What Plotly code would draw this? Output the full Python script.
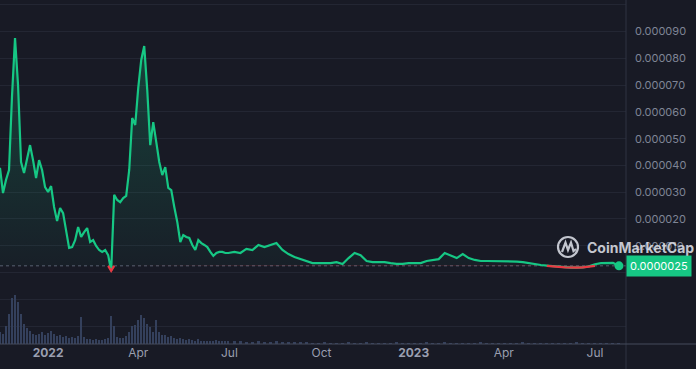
import numpy as np
import pandas as pd
import plotly.graph_objects as go

# ---------------- data ----------------
# price in millionths of a dollar (1e-6 USD)
dates_a = pd.date_range("2021-11-14", periods=77, freq="3D")
dates_b = pd.date_range("2022-07-06", periods=65, freq="6D")

price_a = [39.1, 29.7, 34.6, 38.3, 66.0, 87.6, 70.1, 41.3, 37.2, 42.0,
           47.6, 42.0, 35.3, 42.0, 38.3, 31.9, 30.1, 32.3, 24.5, 19.2,
           24.1, 22.2, 15.1, 9.2, 9.5, 12.1, 17.0, 13.3, 15.1, 16.6,
           11.4, 12.1, 9.9, 8.4, 7.7, 8.4, 6.5, 0.6, 29.0, 27.1,
           26.3, 27.8, 28.6, 38.3, 57.7, 55.1, 68.9, 79.4, 84.6, 68.2,
           47.6, 56.2, 48.8, 41.3, 36.4, 39.4, 31.6, 30.8, 24.5, 18.9,
           11.4, 14.0, 13.3, 12.9, 10.3, 8.4, 12.1, 11.0, 10.3, 9.5,
           7.7, 6.2, 7.3, 7.7, 7.7, 7.3, 7.3]
price_b = [7.7, 7.3, 8.8, 8.4, 10.3, 9.5, 10.3, 11.0, 8.4, 6.9,
           5.8, 5.0, 4.3, 3.5, 3.5, 3.5, 3.5, 3.9, 3.2, 5.4,
           7.3, 6.5, 4.3, 3.9, 3.9, 3.9, 3.5, 3.2, 3.2, 3.5,
           3.5, 3.5, 4.3, 4.7, 5.0, 7.3, 6.2, 5.4, 6.9, 5.4,
           4.7, 4.3, 4.3, 4.3, 4.3, 4.1, 4.3, 4.1, 3.9, 3.5,
           3.2, 2.8, 2.6, 2.4, 2.1, 1.9, 1.8, 1.8, 1.9, 2.3,
           3.1, 3.5, 3.5, 3.6, 2.5]

# volume, arbitrary units (millions USD)
volume_a = [12, 10, 18, 30, 46, 49, 42, 30, 20, 16,
            13, 10, 9, 10, 12, 9, 11, 13, 10, 8,
            9, 7, 8, 6, 7, 6, 8, 27, 7, 5,
            5, 4, 5, 4, 4, 5, 6, 28, 18, 7,
            6, 6, 8, 12, 18, 19, 24, 29, 26, 20,
            17, 12, 24, 12, 9, 9, 7, 8, 6, 5,
            6, 5, 4, 5, 4, 3, 5, 3, 3, 3,
            3, 3, 4, 3, 3, 3, 3]
volume_b = [3, 3, 2, 2, 3, 2, 2, 3, 2, 2, 2, 2,
            2, 1, 1, 2, 1, 1, 1, 2, 1, 1,
            2, 1, 1, 1, 1, 2, 1, 1, 1, 1,
            2, 1, 1, 2, 1, 1, 1, 1, 1, 2,
            1, 1, 1, 1, 1, 1, 2, 1, 1, 1,
            1, 1, 1, 1, 1, 2, 1, 1, 1, 1,
            1, 1, 1]

current_price = 2.5  # baseline / last price (1e-6 USD)

y_tick_values = [-20, -10, 0, 10, 20, 30, 40, 50, 60, 70, 80, 90, 100]
x_tick_dates = ["2022-01-01", "2022-04-01", "2022-07-01", "2022-10-01",
                "2023-01-01", "2023-04-01", "2023-07-01"]
x_tick_text = ["<b>2022</b>", "Apr", "Jul", "Oct", "<b>2023</b>", "Apr", "Jul"]

# ---------------- build ----------------
GREEN = "#16c784"
RED = "#ea3943"
BG = "#181a25"
GRID = "#232633"

dates = dates_a.append(dates_b)
p = np.array(price_a + price_b) * 1e-6
base = current_price * 1e-6
vol = np.array(volume_a + volume_b)
bar_w = [2.1 * 86400000] * len(volume_a) + [3.0 * 86400000] * len(volume_b)

upper = np.maximum(p, base)
lower = np.minimum(p, base)
below = p < base
ext = below.copy()
ext[1:] |= below[:-1]
ext[:-1] |= below[1:]
red_line = [v if m else None for v, m in zip(lower, ext)]
base_arr = np.full(len(p), base)

fig = go.Figure()

fig.add_trace(go.Bar(x=dates, y=vol, width=bar_w, marker_color="#34405c",
                     marker_line_width=0, yaxis="y2", hoverinfo="skip"))

fig.add_trace(go.Scatter(x=dates, y=base_arr, mode="lines",
                         line=dict(width=0), hoverinfo="skip"))
fig.add_trace(go.Scatter(x=dates, y=upper, mode="lines", line=dict(width=0),
                         fill="tonexty",
                         fillgradient=dict(type="vertical",
                                           colorscale=[[0, "rgba(22,199,132,0.03)"],
                                                       [1, "rgba(22,199,132,0.24)"]]),
                         hoverinfo="skip"))
fig.add_trace(go.Scatter(x=dates, y=base_arr, mode="lines",
                         line=dict(width=0), hoverinfo="skip"))
fig.add_trace(go.Scatter(x=dates, y=lower, mode="lines", line=dict(width=0),
                         fill="tonexty", fillcolor="rgba(234,57,67,0.5)",
                         hoverinfo="skip"))

fig.add_trace(go.Scatter(x=dates, y=p, mode="lines",
                         line=dict(color=GREEN, width=2.2)))
fig.add_trace(go.Scatter(x=dates, y=red_line, mode="lines",
                         line=dict(color=RED, width=2.2), connectgaps=False))
fig.add_trace(go.Scatter(x=[dates[-1]], y=[p[-1]], mode="markers",
                         marker=dict(color=GREEN, size=9)))

PLOT_W, PLOT_H = 626.0, 344.0


def px(x, y):
    return x / PLOT_W, 1 - y / PLOT_H


shapes = []
# dotted baseline
shapes.append(dict(type="line", xref="paper", yref="y", x0=0, x1=1,
                   y0=base, y1=base, line=dict(color="#5a5f70", width=1, dash="dot"),
                   layer="below"))
# right axis separator and bottom axis line
shapes.append(dict(type="line", xref="paper", yref="paper",
                   x0=1, x1=1, y0=-25 / PLOT_H, y1=1,
                   line=dict(color="#2f3342", width=1)))
shapes.append(dict(type="line", xref="paper", yref="paper",
                   x0=0, x1=696 / PLOT_W, y0=0, y1=0,
                   line=dict(color="#454a5c", width=1)))
# logo circle
cx0, cy0 = px(558, 237)
cx1, cy1 = px(578, 257)
shapes.append(dict(type="circle", xref="paper", yref="paper",
                   x0=cx0, x1=cx1, y0=cy1, y1=cy0,
                   line=dict(color="rgba(225,228,236,0.85)", width=2.2)))
pts = [(562, 252), (565.5, 242.5), (568, 250), (571, 242.5), (573.5, 251), (576, 249)]
path = "M {} {}".format(*px(*pts[0]))
for q in pts[1:]:
    path += " L {} {}".format(*px(*q))
shapes.append(dict(type="path", xref="paper", yref="paper", path=path,
                   line=dict(color="rgba(225,228,236,0.85)", width=2.2)))

annotations = [
    dict(xref="paper", yref="y", x=1, y=base, xanchor="left", yanchor="middle",
         text="0.0000025", showarrow=False, bgcolor=GREEN,
         font=dict(color="white", size=11, family="Inter"), borderpad=3),
    dict(xref="paper", yref="paper", x=px(585, 0)[0], y=px(0, 247)[1],
         xanchor="left", yanchor="middle", text="<b>CoinMarketCap</b>",
         showarrow=False,
         font=dict(color="rgba(228,230,238,0.85)", size=14, family="Inter")),
]

fig.update_layout(
    width=696, height=369,
    margin=dict(l=0, r=70, t=0, b=25),
    paper_bgcolor=BG, plot_bgcolor=BG,
    showlegend=False,
    bargap=0,
    shapes=shapes,
    annotations=annotations,
    xaxis=dict(range=["2021-11-14", "2023-08-01"], showgrid=False,
               zeroline=False, showline=False,
               tickvals=x_tick_dates, ticktext=x_tick_text,
               tickfont=dict(color="#9a9fb0", size=12, family="Inter"),
               ticks=""),
    yaxis=dict(side="right", range=[-26.7e-6, 101.8e-6],
               tickvals=[v * 1e-6 for v in y_tick_values],
               ticktext=["" if v <= 0 or v >= 100 else "0.{:06d}".format(v)
                         for v in y_tick_values],
               showgrid=True, gridcolor=GRID, gridwidth=1,
               zeroline=False, showline=False, ticks="",
               ticklabelstandoff=8,
               tickfont=dict(color="#7f8596", size=11, family="Inter")),
    yaxis2=dict(overlaying="y", range=[0, 344], visible=False),
)

fig.write_html("out.html",
               config={"displayModeBar": False},
               post_script="document.body.style.margin='0px';"
                           "document.body.style.background='%s';" % BG)
